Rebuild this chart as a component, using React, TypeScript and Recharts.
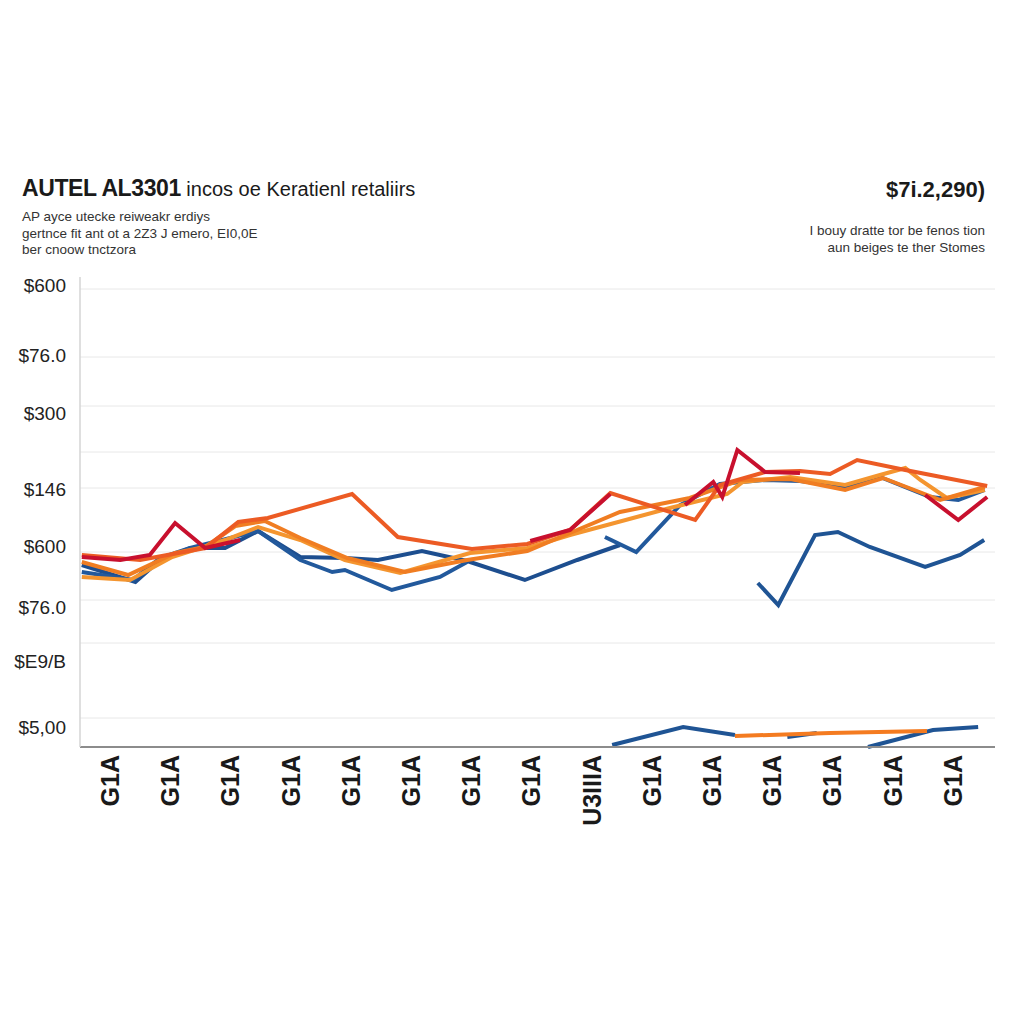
import { LineChart, Line, XAxis, YAxis, ReferenceLine } from 'recharts';

type Pt = [number, number | null];

// x: tenths of a period (label i sits at i*10), v: chart units from the baseline
const xTicks = [0, 10, 20, 30, 40, 50, 60, 70, 80, 90, 100, 110, 120, 130, 140];
const xLabels = ['G1A', 'G1A', 'G1A', 'G1A', 'G1A', 'G1A', 'G1A', 'G1A', 'U3IIIA', 'G1A', 'G1A', 'G1A', 'G1A', 'G1A', 'G1A'];

const yTicks = [20, 86, 140, 201, 258, 334, 392, 462];
const yLabels = ['$5,00', '$E9/B', '$76.0', '$600', '$146', '$300', '$76.0', '$600'];
const gridValues = [29, 104, 147, 195, 259, 295, 341, 390, 458];

const blueA: Pt[] = [
  [-4.7, 182], [4.2, 165], [8.3, 187], [13.3, 199], [19.1, 199], [24.6, 216], [31.6, 190], [39.0, 189],
  [44.5, 187], [51.8, 196], [59.3, 186], [68.9, 167], [77.6, 187], [84.7, 202],
];
const blueB: Pt[] = [
  [-4.7, 175], [3.8, 167], [8.3, 189], [13.3, 199], [24.6, 216], [31.6, 187], [36.9, 175], [39.0, 177],
  [46.8, 157], [54.8, 170], [59.3, 185], [70, null], [82.2, 210], [87.4, 195], [94.7, 242], [101.3, 263],
  [108.8, 267], [114.6, 266], [122.1, 260], [127.9, 270], [136.2, 250], [140.9, 247], [145.3, 257],
];
const blueC: Pt[] = [
  [107.6, 164], [111.0, 142], [117.1, 212], [120.9, 215], [126.2, 200], [135.4, 180], [141.2, 192], [145.2, 207],
];
const blueD: Pt[] = [
  [83.4, 2], [95.2, 20], [103.8, 12], [106, null], [112.5, 10], [117.4, 14], [120, null],
  [125.9, 0], [136.7, 17], [144.2, 20],
];
const orangeLow: Pt[] = [[103.8, 11], [119.6, 14], [135.7, 16]];
const lightOrange: Pt[] = [
  [-4.7, 170], [3.3, 167], [10.3, 190], [19.1, 207], [24.6, 220], [31.6, 207], [39.0, 187], [48.2, 174],
  [59.8, 194], [69.3, 199], [76.4, 212], [93.0, 239], [102.5, 253], [105.1, 265], [113.0, 270], [122.1, 262],
  [127.9, 272], [132.1, 279], [134.6, 267], [139.0, 249], [145.3, 257],
];
const orangeMid: Pt[] = [
  [-4.7, 185], [3.0, 172], [10.8, 194], [15.8, 200], [20.8, 221], [25.7, 226], [31.6, 209], [39.4, 189],
  [49.0, 175], [59.3, 187], [69.3, 196], [76.4, 214], [84.7, 235], [96.3, 249], [104.7, 267], [113.0, 268],
  [122.1, 257], [128.4, 269], [137.9, 247], [145.3, 260],
];
const orangeRed: Pt[] = [
  [-4.7, 192], [5.0, 187], [15.8, 199], [21.3, 225], [26.2, 229], [40.2, 253], [47.8, 210], [60.1, 198],
  [69.3, 203], [76.4, 217], [83.1, 254], [97.2, 227], [101.3, 262], [108.8, 275], [114.6, 276], [119.6, 273],
  [124.1, 287], [132.1, 277], [145.7, 261],
];
const red: Pt[] = [
  [-4.7, 190], [1.7, 187], [6.6, 192], [10.8, 224], [15.8, 199], [21.6, 207], [40, null],
  [69.8, 206], [76.4, 217], [83.1, 253], [90, null],
  [95.5, 242], [100.2, 265], [101.7, 250], [104.2, 297], [108.8, 275], [114.6, 274], [125, null],
  [135.4, 252], [140.9, 227], [145.7, 250],
];

const series = [
  { name: 'blueA', pts: blueA, color: '#1d4e8f' },
  { name: 'blueB', pts: blueB, color: '#22599c' },
  { name: 'blueC', pts: blueC, color: '#1f5494' },
  { name: 'blueD', pts: blueD, color: '#1f5494' },
  { name: 'lightOrange', pts: lightOrange, color: '#f4952f' },
  { name: 'orangeMid', pts: orangeMid, color: '#f07d22' },
  { name: 'orangeRed', pts: orangeRed, color: '#ec5b24' },
  { name: 'red', pts: red, color: '#c8102e' },
  { name: 'orangeLow', pts: orangeLow, color: '#f47b20' },
];

const toRows = (pts: Pt[]) => pts.map(([x, v]) => ({ x, v }));

const font = '"Liberation Sans", Arial, sans-serif';

function XTick(props: any) {
  const { x, y, payload } = props;
  const label = xLabels[Math.round(payload.value / 10)];
  const ty = y + 6;
  return (
    <text x={x} y={ty} transform={`rotate(-90 ${x} ${ty})`} textAnchor="end" dominantBaseline="central"
      fontFamily={font} fontSize={25} fontWeight={700} fill="#1a1a1a">
      {label}
    </text>
  );
}

function YTick(props: any) {
  const { y, payload } = props;
  const i = yTicks.indexOf(payload.value);
  return (
    <text x={66} y={y} textAnchor="end" dominantBaseline="central" fontFamily={font} fontSize={19} fill="#222">
      {yLabels[i]}
    </text>
  );
}

export default function App() {
  return (
    <div style={{ position: 'absolute', left: 0, top: 0, width: 1024, height: 1024, background: '#fff', fontFamily: font, color: '#1a1a1a' }}>
      <div style={{ position: 'absolute', left: 22, top: 174, lineHeight: '28px', whiteSpace: 'nowrap' }}>
        <span style={{ fontSize: 23, fontWeight: 700, letterSpacing: -0.4 }}>AUTEL AL3301</span>
        <span style={{ fontSize: 20 }}> incos oe Keratienl retaliirs</span>
      </div>
      <div style={{ position: 'absolute', left: 22, top: 209, fontSize: 13.5, lineHeight: '16.5px', color: '#333', whiteSpace: 'nowrap' }}>
        <div>AP ayce uteckе reiweakr erdiys</div>
        <div>gertnce fit ant ot a 2Z3 J emero, EI0,0E</div>
        <div>ber cnoow tnctzora</div>
      </div>
      <div style={{ position: 'absolute', right: 39, top: 177, fontSize: 22, fontWeight: 700, lineHeight: '26px', whiteSpace: 'nowrap' }}>
        $7i.2,290)
      </div>
      <div style={{ position: 'absolute', right: 39, top: 222, fontSize: 13.5, lineHeight: '17px', color: '#333', textAlign: 'right', whiteSpace: 'nowrap' }}>
        <div>I bouy dratte tor be fenos tion</div>
        <div>aun beiges te ther Stomes</div>
      </div>
      <div style={{ position: 'absolute', left: 0, top: 0 }}>
        <LineChart width={1024} height={1024} margin={{ top: 277, right: 29, bottom: 177, left: 0 }}>
          {gridValues.map((g) => (
            <ReferenceLine key={g} y={g} stroke="#e8e8e8" strokeWidth={1} />
          ))}
          <XAxis dataKey="x" type="number" domain={[-5, 147]} ticks={xTicks} allowDataOverflow
            interval={0} height={100} tickLine={false} tickSize={0} tick={<XTick />}
            axisLine={{ stroke: '#8c8c8c', strokeWidth: 2 }} />
          <YAxis type="number" domain={[0, 470]} ticks={yTicks} width={80} interval={0}
            tickLine={false} tick={<YTick />} axisLine={{ stroke: '#d4d4d4', strokeWidth: 1.5 }} />
          {series.map((s) => (
            <Line key={s.name} data={toRows(s.pts)} dataKey="v" type="linear" stroke={s.color}
              strokeWidth={4} dot={false} isAnimationActive={false} connectNulls={false} />
          ))}
        </LineChart>
      </div>
    </div>
  );
}
